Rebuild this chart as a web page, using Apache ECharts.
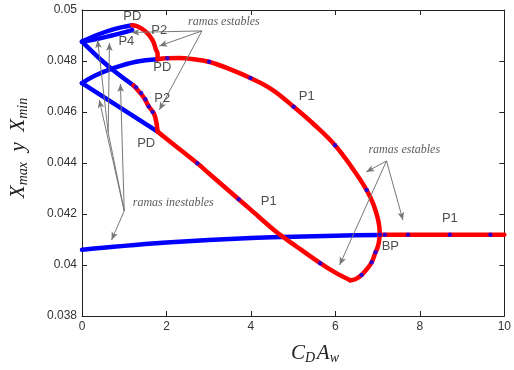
<!DOCTYPE html>
<html>
<head>
<meta charset="utf-8">
<script src="https://cdn.jsdelivr.net/npm/echarts@6/dist/echarts.min.js"></script>
<style>
  html, body { margin: 0; padding: 0; background: #fff; }
  #chart { width: 514px; height: 370px; }
</style>
</head>
<body>
<div id="chart"></div>
<script>
// Bifurcation diagram: extrema of X versus C_D*A_w
// Each branch is a list of [C_D*A_w, X] points.

// Unstable period-1 branch (low) from 0 up to the branch point
const p1Low = [[0, 0.04060], [0.5, 0.04068], [1, 0.04075], [1.5, 0.04082], [2, 0.04088],
  [3, 0.04098], [4, 0.04106], [5, 0.04111], [6, 0.04115], [7.05, 0.04118]];

// Stable period-1 branch after the branch point
const p1Right = [[7.05, 0.04119], [10, 0.04119]];

// Stable period-1 loop, maximum side (PD -> BP)
const p1LoopMax = [[1.79, 0.04807], [2.0, 0.04811], [2.3, 0.04812], [2.6, 0.04808], [3.0, 0.04797],
  [3.5, 0.04768], [4.0, 0.04732], [4.5, 0.04688], [5.0, 0.04622], [5.5, 0.04550],
  [6.0, 0.04468], [6.4, 0.04380], [6.74, 0.04294], [6.9, 0.04238], [7.0, 0.04185],
  [7.04, 0.04150], [7.05, 0.04119]];

// Stable period-1 loop, minimum side: BP down to the lowest point
const p1LoopMinRight = [[7.05, 0.04119], [7.03, 0.04090], [6.99, 0.04065], [6.95, 0.04050],
  [6.86, 0.04011], [6.75, 0.03985], [6.62, 0.03961], [6.47, 0.03944], [6.35, 0.03940]];

// ... and from the lowest point back up to PD
const p1LoopMinLeft = [[6.35, 0.03940], [6.0, 0.03970], [5.64, 0.04007], [5.0, 0.04082],
  [4.62, 0.04127], [4.0, 0.04216], [3.71, 0.04258], [3.0, 0.04360], [2.73, 0.04399],
  [2.2, 0.04469], [1.79, 0.04523]];

// Unstable period-1 continuation to the left of the PD points
const p1UnstMax = [[0, 0.04713], [0.3, 0.04742], [0.73, 0.04771], [1.28, 0.04797], [1.79, 0.04807]];
const p1UnstMin = [[0, 0.04713], [1.79, 0.04523]];

// Stable period-2 arcs
const p2StableMax = [[1.79, 0.04807], [1.79, 0.04828], [1.75, 0.04845], [1.67, 0.04882],
  [1.51, 0.04915], [1.32, 0.04935], [1.19, 0.04940]];
const p2StableMin = [[1.79, 0.04523], [1.76, 0.04560], [1.70, 0.04595], [1.58, 0.04622],
  [1.47, 0.04655], [1.35, 0.04680], [1.22, 0.04704]];

// Unstable period-2 and period-4 branches
const p2UnstMax = [[1.19, 0.04940], [0.76, 0.04925], [0.37, 0.04903], [0, 0.04876]];
const p4Branch = [[1.19, 0.04921], [0.68, 0.04899], [0.29, 0.04884], [0, 0.04876]];
const p2UnstMin = [[1.22, 0.04704], [0.8, 0.04756], [0.44, 0.04806], [0, 0.04876]];

// Computed points marked along the stable branches
const markedPoints = [[2.02, 0.04811], [3.01, 0.04797], [3.99, 0.04733], [5.01, 0.04621],
  [5.99, 0.04470], [6.74, 0.04294], [7.05, 0.04119], [7.17, 0.04119], [7.72, 0.04119],
  [8.71, 0.04119], [9.67, 0.04119], [6.95, 0.04050], [6.86, 0.04011], [6.62, 0.03961],
  [5.64, 0.04007], [3.71, 0.04258], [2.73, 0.04399], [1.28, 0.04697], [1.40, 0.04675],
  [1.50, 0.04650], [1.58, 0.04622], [1.67, 0.04600]];

// Branch labels
const branchLabels = [
  ['PD', 1.19, 0.04976], ['P2', 1.83, 0.04918], ['P4', 1.05, 0.04878],
  ['PD', 1.90, 0.04773], ['P2', 1.90, 0.04655], ['PD', 1.52, 0.04475],
  ['P1', 5.32, 0.04663], ['P1', 4.42, 0.04251], ['BP', 7.30, 0.04071],
  ['P1', 8.71, 0.04184]
];

// Notes and their arrows
const notes = [
  ['ramas estables', 3.36, 0.04953],
  ['ramas estables', 7.63, 0.04451],
  ['ramas inestables', 2.16, 0.04243]
];
const arrows = [
  [[2.84, 0.04918], [1.17, 0.04912]],
  [[2.84, 0.04918], [1.83, 0.04859]],
  [[2.84, 0.04918], [1.83, 0.04608]],
  [[7.21, 0.04408], [6.73, 0.04365]],
  [[7.21, 0.04408], [7.60, 0.04176]],
  [[7.21, 0.04408], [6.10, 0.04000]],
  [[1.00, 0.04212], [0.70, 0.04098]],
  [[1.00, 0.04212], [0.41, 0.04647]],
  [[1.00, 0.04212], [0.91, 0.04710]],
  [[0.62, 0.04520], [0.37, 0.04882]],
  [[0.62, 0.04520], [0.65, 0.04871]]
];
const arrowLines = [[[1.00, 0.04212], [0.62, 0.04520]]];

const BLUE = '#0000ff';
const RED = '#ff0000';
const LW = 4.5;

function branch(data, color, smooth) {
  return {
    type: 'line', data: data, showSymbol: false, symbol: 'none',
    smooth: smooth || false,
    lineStyle: { color: color, width: LW, cap: 'round', join: 'round' },
    silent: true, z: 3
  };
}

const chart = echarts.init(document.getElementById('chart'), null, { renderer: 'canvas' });

const axisCommon = {
  type: 'value',
  axisLine: { show: true, onZero: false, lineStyle: { color: '#222', width: 1 } },
  axisTick: { show: true, inside: true, length: 5, lineStyle: { color: '#222' } },
  splitLine: { show: false }
};

chart.setOption({
  animation: false,
  backgroundColor: '#fff',
  grid: { left: 82, right: 8, top: 10, bottom: 54 },
  xAxis: [
    Object.assign({}, axisCommon, {
      min: 0, max: 10, interval: 2, position: 'bottom',
      axisLabel: { color: '#333', fontFamily: 'Liberation Sans', fontSize: 12, margin: 5 }
    }),
    Object.assign({}, axisCommon, {
      min: 0, max: 10, interval: 2, position: 'top', axisLabel: { show: false }
    })
  ],
  yAxis: [
    Object.assign({}, axisCommon, {
      min: 0.038, max: 0.05, interval: 0.002, position: 'left',
      axisLabel: {
        color: '#333', fontFamily: 'Liberation Sans', fontSize: 12, margin: 5,
        formatter: v => String(+v.toFixed(3))
      }
    }),
    Object.assign({}, axisCommon, {
      min: 0.038, max: 0.05, interval: 0.002, position: 'right', axisLabel: { show: false }
    })
  ],
  series: [
    branch(p1Low, BLUE, 0.3),
    branch(p1UnstMax, BLUE, 0.4),
    branch(p1UnstMin, BLUE),
    branch(p2UnstMax, BLUE, 0.4),
    branch(p4Branch, BLUE, 0.4),
    branch(p2UnstMin, BLUE, 0.3),
    branch(p1Right, RED),
    branch(p1LoopMax, RED, 0.4),
    branch(p1LoopMinRight, RED, 0.4),
    branch(p1LoopMinLeft, RED, 0.3),
    branch(p2StableMax, RED, 0.4),
    branch(p2StableMin, RED, 0.4),
    {
      type: 'scatter', data: markedPoints, symbol: 'circle', symbolSize: 4.5,
      itemStyle: { color: BLUE }, silent: true, z: 4
    },
    {
      type: 'scatter', symbolSize: 1, silent: true, z: 5,
      itemStyle: { color: 'rgba(0,0,0,0)' },
      data: branchLabels.map(d => ({ name: d[0], value: [d[1], d[2]] })),
      label: {
        show: true, position: 'inside', formatter: p => p.name,
        color: '#222', fontFamily: 'Liberation Sans', fontSize: 13
      },
      markLine: {
        silent: true, symbol: ['none', 'arrow'], symbolSize: [5, 8], precision: 6,
        lineStyle: { color: '#777', width: 1, type: 'solid' },
        label: { show: false },
        data: arrows.map(a => [{ coord: a[0] }, { coord: a[1] }])
          .concat(arrowLines.map(a => [{ coord: a[0], symbol: 'none' }, { coord: a[1], symbol: 'none' }]))
      }
    },
    {
      type: 'scatter', symbolSize: 1, silent: true, z: 5,
      itemStyle: { color: 'rgba(0,0,0,0)' },
      data: notes.map(d => ({ name: d[0], value: [d[1], d[2]] })),
      label: {
        show: true, position: 'inside', formatter: p => p.name,
        color: '#333', fontFamily: 'Liberation Serif', fontStyle: 'italic', fontSize: 12
      }
    }
  ],
  graphic: [
    {
      type: 'text', silent: true, x: 315, y: 353,
      style: {
        text: '{v|C}{s|D}{g| }{v|A}{s|w}',
        align: 'center', verticalAlign: 'middle',
        rich: {
          v: { fontFamily: 'Liberation Serif', fontStyle: 'italic', fontSize: 21, fill: '#222', lineHeight: 24, verticalAlign: 'middle' },
          s: { fontFamily: 'Liberation Serif', fontStyle: 'italic', fontSize: 14, fill: '#222', lineHeight: 24, verticalAlign: 'bottom' },
          g: { fontSize: 6, lineHeight: 24 }
        }
      }
    },
    {
      type: 'text', silent: true, x: 18, y: 148, rotation: Math.PI / 2,
      style: {
        text: '{v|X}{s|max}{v|  y  X}{s|min}',
        align: 'center', verticalAlign: 'middle',
        rich: {
          v: { fontFamily: 'Liberation Serif', fontStyle: 'italic', fontSize: 21, fill: '#222', lineHeight: 24, verticalAlign: 'middle' },
          s: { fontFamily: 'Liberation Serif', fontStyle: 'italic', fontSize: 14, fill: '#222', lineHeight: 24, verticalAlign: 'bottom' }
        }
      }
    }
  ]
});
</script>
</body>
</html>
